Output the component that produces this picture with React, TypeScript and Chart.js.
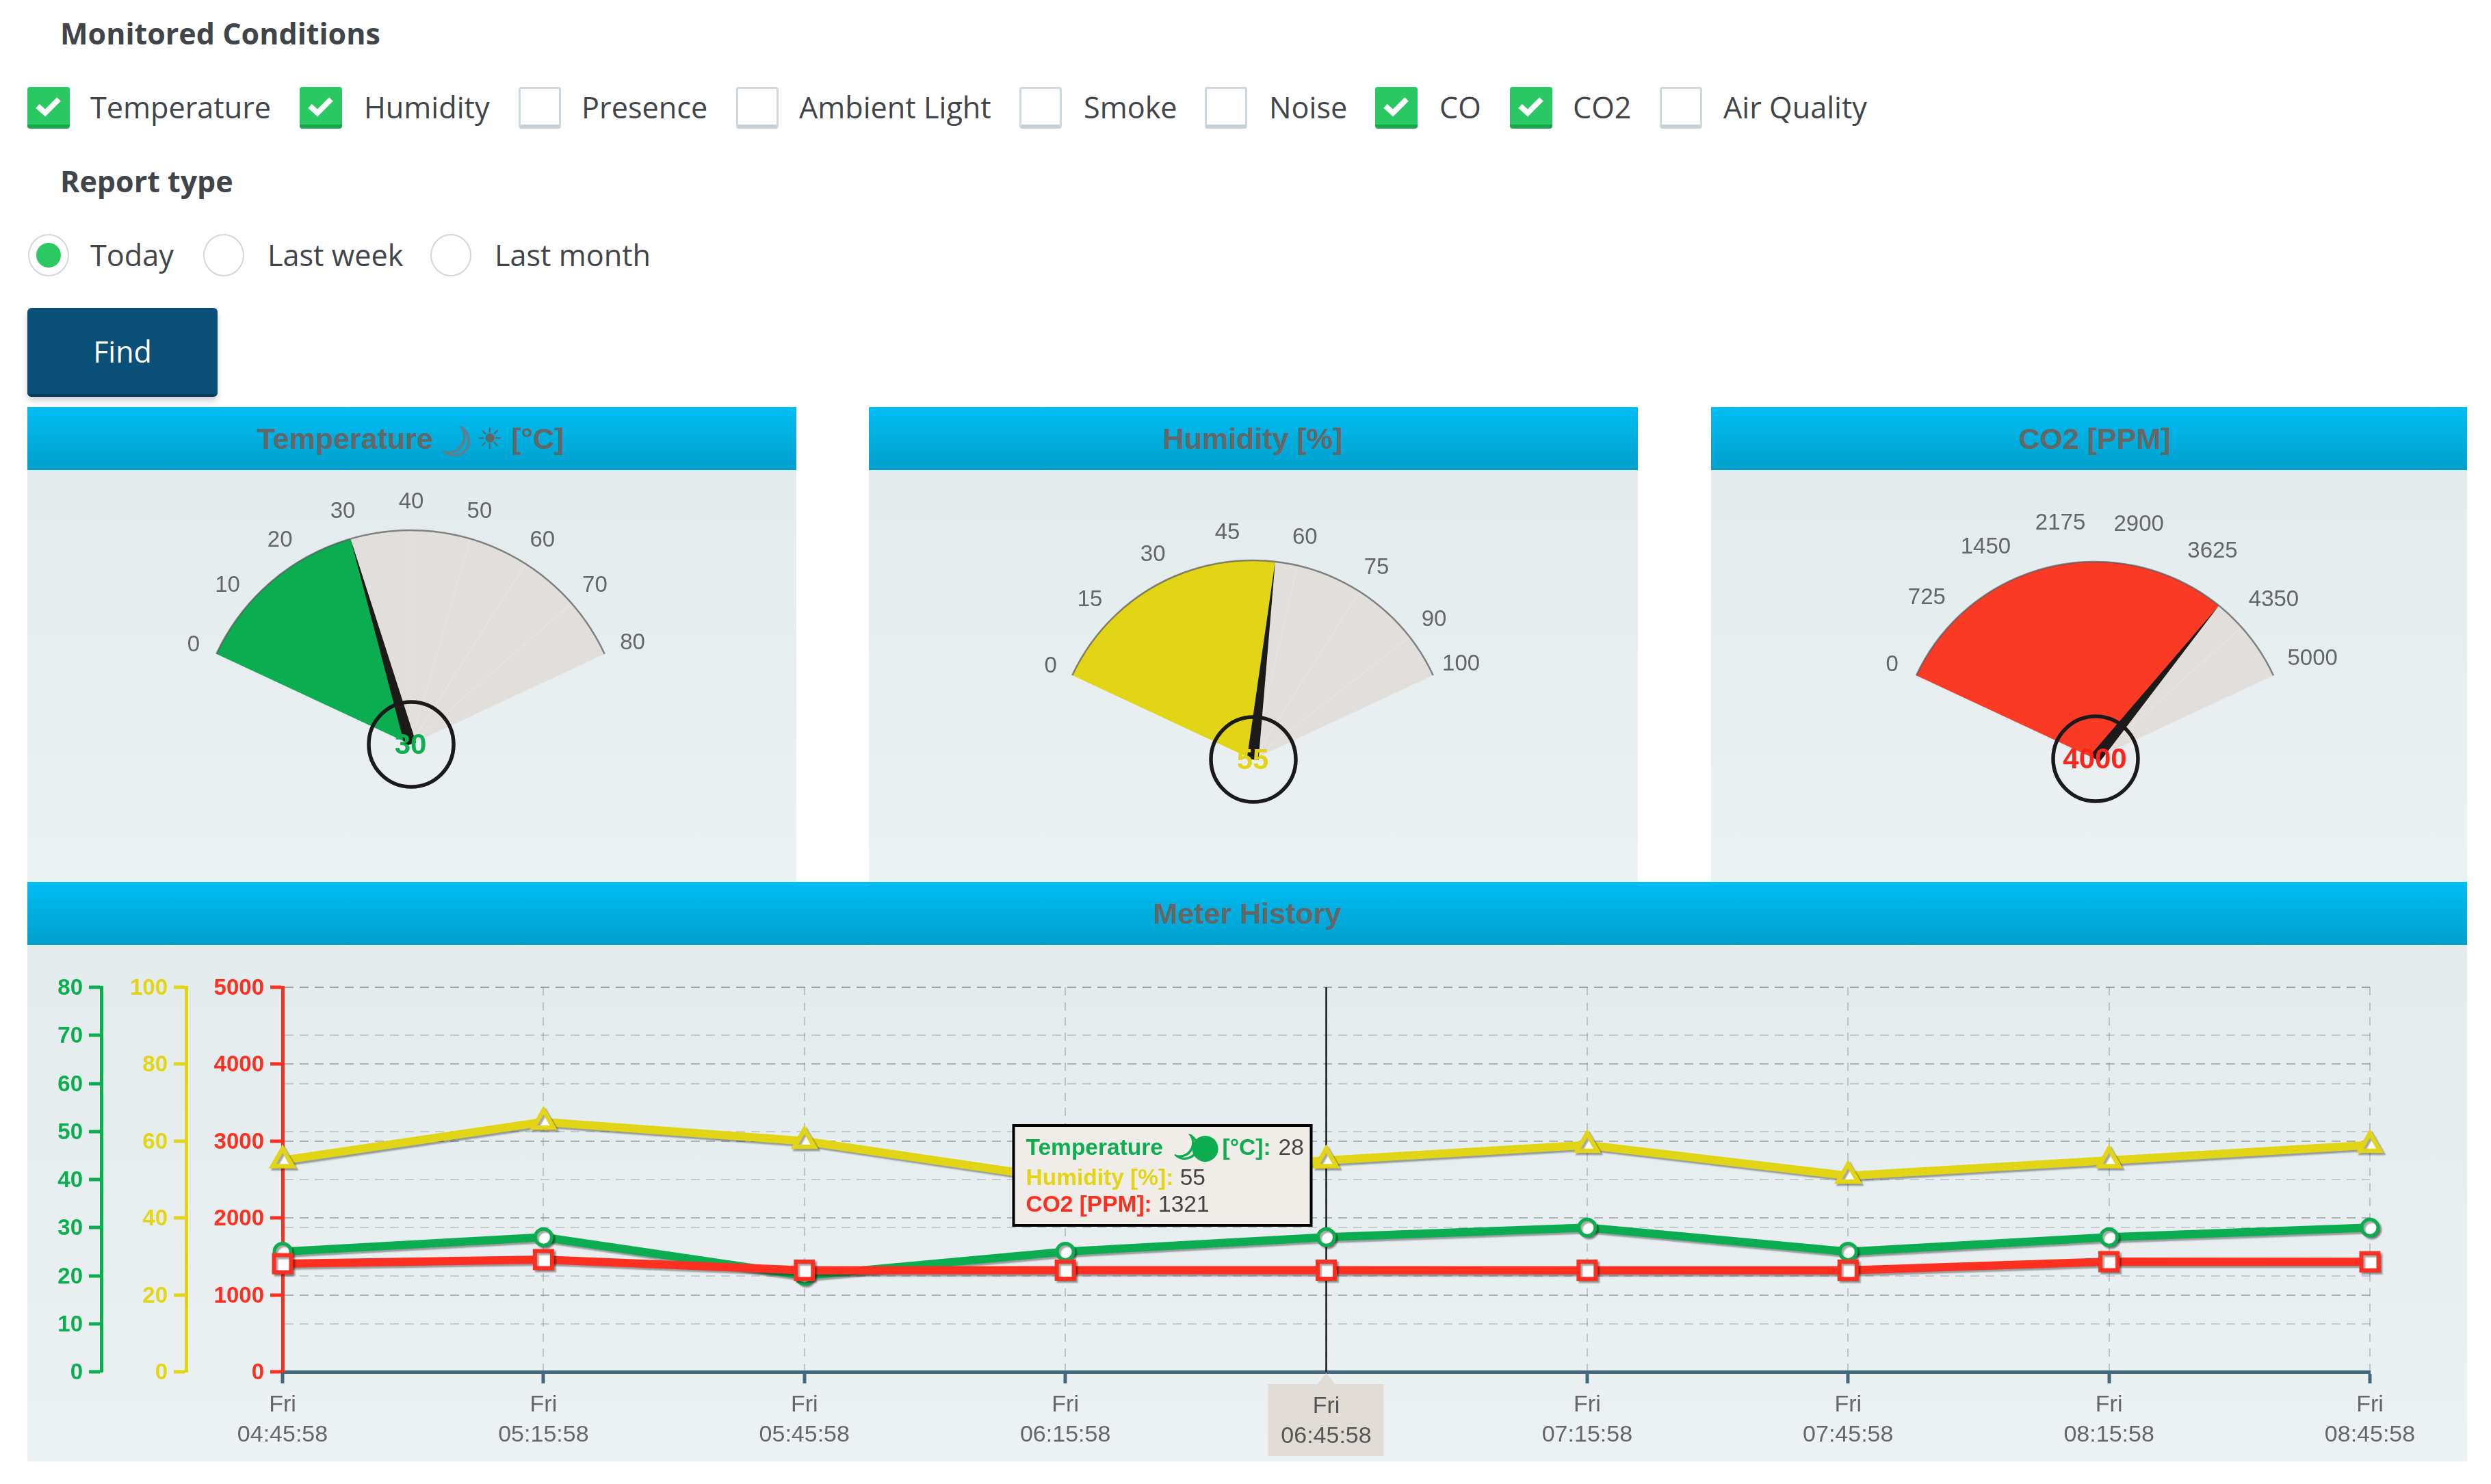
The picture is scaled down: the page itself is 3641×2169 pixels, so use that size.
import React, { useEffect, useRef } from "react";
import { Chart, registerables } from "chart.js";

Chart.register(...registerables);

// ---------- data ----------
const conditionNames = ["Temperature", "Humidity", "Presence", "Ambient Light", "Smoke", "Noise", "CO", "CO2", "Air Quality"];
const conditionChecked = [true, true, false, false, false, false, true, true, false];
const reportTypes = ["Today", "Last week", "Last month"];
const selectedReport = 0;

const gaugeValues = [30, 55, 4000];
const gaugeMaxes = [80, 100, 5000];
const temperatureTicks = [0, 10, 20, 30, 40, 50, 60, 70, 80];
const humidityTicks = [0, 15, 30, 45, 60, 75, 90, 100];
const co2Ticks = [0, 725, 1450, 2175, 2900, 3625, 4350, 5000];
const gaugeTicks = [temperatureTicks, humidityTicks, co2Ticks];

const timeLabels = [
  ["Fri", "04:45:58"], ["Fri", "05:15:58"], ["Fri", "05:45:58"], ["Fri", "06:15:58"], ["Fri", "06:45:58"],
  ["Fri", "07:15:58"], ["Fri", "07:45:58"], ["Fri", "08:15:58"], ["Fri", "08:45:58"],
];
const temperatureSeries = [25, 28, 20, 25, 28, 30, 25, 28, 30];
const humiditySeries = [55, 65, 60, 50, 55, 59, 51, 55, 59];
const co2Series = [1405, 1459, 1320, 1321, 1321, 1320, 1320, 1432, 1430];
const hoveredIndex = 4;

// ---------- style ----------
const GREEN = "#0bad50";
const YELLOW = "#e2d516";
const RED = "#fd2f20";
const REST = "#e2dedb";
const TEAL = "#41697b";
const SANS = '"Liberation Sans", "DejaVu Sans", sans-serif';
const OPEN = '"Open Sans", sans-serif';
const gaugeColors = [GREEN, YELLOW, "#fb3a26"];
const valueColors = ["#0cb050", "#e3d416", "#ff2419"];
const panelBody = "linear-gradient(180deg,#e3ebed,#ecf1f3)";
const headerBg = "linear-gradient(180deg,#00bdf3,#00a0cc)";

const gaugeLayout = [
  { px: 40, pw: 1124, cx: 600, cy: 1088, R: 313, lr: 357, ly: 3 },
  { px: 1270, pw: 1124, cx: 1831, cy: 1110, R: 291, lr: 335, ly: 2 },
  { px: 2501, pw: 1105, cx: 3062, cy: 1109, R: 288, lr: 350, ly: 2 },
];
const labelInset = [
  [6, 0, 0, 0, 0, 0, 0, 0, 0],
  [8, 0, 0, 0, 0, 0, 0, 0],
  [22, 8, 0, 0, 0, 0, 0, 0],
];
const BODY_TOP = 687;
const BODY_BOTTOM = 1289;
const HALF = 65;

function Gauge({ i }: { i: number }) {
  const ref = useRef<HTMLCanvasElement>(null);
  useEffect(() => {
    const L = gaugeLayout[i];
    const value = gaugeValues[i];
    const max = gaugeMaxes[i];
    const angleOf = (v: number) => ((-HALF + (2 * HALF * v) / max) * Math.PI) / 180;
    const plugin = {
      id: "gaugeDecor",
      afterDatasetsDraw(chart: any) {
        const arc = chart.getDatasetMeta(0).data[0];
        const { x, y, outerRadius: R } = arc;
        const ctx = chart.ctx;
        ctx.save();
        ctx.strokeStyle = "rgba(255,255,255,0.16)";
        ctx.lineWidth = 1.5;
        for (const t of gaugeTicks[i]) {
          if (t <= value || t === max) continue;
          const a = angleOf(t);
          ctx.beginPath();
          ctx.moveTo(x, y);
          ctx.lineTo(x + Math.sin(a) * R, y - Math.cos(a) * R);
          ctx.stroke();
        }
        ctx.strokeStyle = "rgba(85,85,85,0.7)";
        ctx.lineWidth = 2.5;
        ctx.beginPath();
        ctx.arc(x, y, R, angleOf(0) - Math.PI / 2, angleOf(max) - Math.PI / 2);
        ctx.stroke();
        ctx.fillStyle = "#666";
        ctx.font = `33px ${SANS}`;
        ctx.textAlign = "center";
        ctx.textBaseline = "middle";
        gaugeTicks[i].forEach((t, k) => {
          const a = angleOf(t);
          const r = L.lr - labelInset[i][k];
          ctx.fillText(String(t), x + 1 + Math.sin(a) * r, y + L.ly - Math.cos(a) * r);
        });
        const a = angleOf(value);
        const nx = Math.cos(a) * 8.5;
        const ny = Math.sin(a) * 8.5;
        ctx.fillStyle = "#1d1b19";
        ctx.beginPath();
        ctx.moveTo(x - nx, y - ny);
        ctx.lineTo(x + Math.sin(a) * R, y - Math.cos(a) * R);
        ctx.lineTo(x + nx, y + ny);
        ctx.closePath();
        ctx.fill();
        ctx.strokeStyle = "#1a1a1a";
        ctx.lineWidth = 5.5;
        ctx.beginPath();
        ctx.arc(x + 1, y, 62, 0, Math.PI * 2);
        ctx.stroke();
        ctx.fillStyle = valueColors[i];
        ctx.font = `bold 42px ${SANS}`;
        ctx.fillText(String(value), x, y + 2);
        ctx.restore();
      },
    };
    const chart = new Chart(ref.current!, {
      type: "doughnut",
      data: {
        labels: ["value", "rest"],
        datasets: [{
          data: [value, max - value],
          backgroundColor: [gaugeColors[i], REST],
          borderWidth: 0,
          hoverOffset: 0,
          offset: 0,
        }],
      },
      options: {
        responsive: false,
        animation: false,
        events: [],
        rotation: -HALF,
        circumference: 2 * HALF,
        cutout: 0,
        radius: L.R,
        layout: {
          padding: {
            left: L.cx - L.R - L.px,
            right: L.px + L.pw - L.cx - L.R,
            top: L.cy - L.R - BODY_TOP,
            bottom: BODY_BOTTOM - L.cy,
          },
        },
        plugins: { legend: { display: false }, tooltip: { enabled: false } },
      } as any,
      plugins: [plugin],
    });
    return () => chart.destroy();
  }, [i]);
  const L = gaugeLayout[i];
  return (
    <canvas
      ref={ref}
      width={L.pw}
      height={BODY_BOTTOM - BODY_TOP}
      style={{ position: "absolute", left: L.px, top: BODY_TOP, width: L.pw, height: BODY_BOTTOM - BODY_TOP, display: "block" }}
    />
  );
}

const CHART_LEFT = 40;
const CHART_TOP = 1381;
const CHART_W = 3566;
const CHART_H = 755;

function History() {
  const ref = useRef<HTMLCanvasElement>(null);
  useEffect(() => {
    const shadow = {
      id: "lineShadow",
      beforeDatasetDraw(chart: any) {
        const c = chart.ctx;
        c.save();
        c.shadowColor = "rgba(0,0,0,0.35)";
        c.shadowBlur = 2;
        c.shadowOffsetX = 3;
        c.shadowOffsetY = 3;
      },
      afterDatasetDraw(chart: any) {
        chart.ctx.restore();
      },
    };
    const hover = {
      id: "hoverDecor",
      beforeDatasetsDraw(chart: any) {
        const c = chart.ctx;
        const x = chart.scales.x.getPixelForValue(hoveredIndex);
        c.save();
        c.strokeStyle = "#1a1a1a";
        c.lineWidth = 2.5;
        c.beginPath();
        c.moveTo(x, chart.chartArea.top);
        c.lineTo(x, chart.chartArea.bottom);
        c.stroke();
        c.restore();
      },
      afterDraw(chart: any) {
        const c = chart.ctx;
        const x = chart.scales.x.getPixelForValue(hoveredIndex);
        const b = chart.chartArea.bottom;
        c.save();
        c.fillStyle = "#e2dcd7";
        c.fillRect(x - 85, b + 18, 169, 105);
        c.beginPath();
        c.moveTo(x, b + 2);
        c.lineTo(x - 13, b + 18);
        c.lineTo(x + 13, b + 18);
        c.closePath();
        c.fill();
        c.fillStyle = "#555";
        c.font = `34px ${SANS}`;
        c.textAlign = "center";
        c.textBaseline = "middle";
        c.fillText(timeLabels[hoveredIndex][0], x, b + 51);
        c.fillText(timeLabels[hoveredIndex][1], x, b + 95);
        // tooltip
        const left = x - 457;
        const top = b - 360;
        c.fillStyle = "#f0ece8";
        c.strokeStyle = "#000";
        c.lineWidth = 4;
        c.fillRect(left, top, 435, 146);
        c.strokeRect(left, top, 435, 146);
        c.textAlign = "left";
        const bold = `bold 33.5px ${SANS}`;
        const reg = `33.5px ${SANS}`;
        const y1 = top + 34;
        c.font = bold;
        c.fillStyle = GREEN;
        c.fillText("Temperature", left + 18, y1);
        c.fillText("[\u00B0C]:", left + 305, y1);
        c.font = reg;
        c.fillStyle = "#444";
        c.fillText(String(temperatureSeries[hoveredIndex]), left + 387, y1);
        // moon and sun glyphs of the tooltip's first row
        c.save();
        c.fillStyle = GREEN;
        c.strokeStyle = GREEN;
        c.lineWidth = 1.6;
        c.translate(left + 247, y1 + 1);
        c.rotate((35 * Math.PI) / 180);
        c.textAlign = "center";
        c.font = `52px "DejaVu Sans"`;
        c.fillText("\u263D", 0, 0);
        c.strokeText("\u263D", 0, 0);
        c.restore();
        c.save();
        c.fillStyle = GREEN;
        c.textAlign = "center";
        c.font = `50px "DejaVu Sans"`;
        c.fillText("\u25CF", left + 280, y1);
        c.restore();
        const rows = [
          { label: "Humidity [%]:", color: YELLOW, value: humiditySeries[hoveredIndex], dy: 78 },
          { label: "CO2 [PPM]:", color: RED, value: co2Series[hoveredIndex], dy: 117 },
        ];
        for (const r of rows) {
          c.font = bold;
          c.fillStyle = r.color;
          c.fillText(r.label, left + 18, top + r.dy);
          const w = c.measureText(r.label + " ").width;
          c.font = reg;
          c.fillStyle = "#444";
          c.fillText(String(r.value), left + 18 + w, top + r.dy);
        }
        c.restore();
      },
    };
    const gridColor = "rgba(110,125,135,0.3)";
    const yAxis = (color: string, max: number, step: number, labelEvery: number, weight: number, width: number) => ({
      type: "linear",
      position: "left",
      min: 0,
      max,
      weight,
      afterFit(s: any) { s.width = width; },
      ticks: {
        stepSize: step,
        color,
        padding: 9,
        labelOffset: 2,
        autoSkip: false,
        font: { family: SANS, size: 33, weight: "bold" },
        callback: (v: number) => (v % labelEvery === 0 ? String(v) : null),
      },
      grid: { color: gridColor, lineWidth: 2, tickColor: color, tickWidth: 5, tickLength: 18 },
      border: { color, width: 5, dash: [13, 9] },
    });
    const chart = new Chart(ref.current!, {
      type: "line",
      data: {
        labels: timeLabels as any,
        datasets: [
          {
            label: "Temperature", data: temperatureSeries, yAxisID: "yT", order: 2,
            borderColor: GREEN, borderWidth: 12, pointStyle: "circle", pointRadius: 12, pointBorderWidth: 5,
            pointBackgroundColor: "#fff", pointBorderColor: GREEN, tension: 0, clip: false,
          },
          {
            label: "Humidity", data: humiditySeries, yAxisID: "yH", order: 1,
            borderColor: YELLOW, borderWidth: 12, pointStyle: "triangle", pointRadius: 17, pointBorderWidth: 6.5,
            pointBackgroundColor: "#fff", pointBorderColor: YELLOW, tension: 0, clip: false,
          },
          {
            label: "CO2", data: co2Series, yAxisID: "yC", order: 0,
            borderColor: RED, borderWidth: 12, pointStyle: "rect", pointRadius: 17.7, pointBorderWidth: 6,
            pointBackgroundColor: "#fff", pointBorderColor: RED, tension: 0, clip: false,
          },
        ],
      },
      options: {
        responsive: false,
        animation: false,
        events: [],
        layout: { padding: { left: 0, right: 142, top: 62, bottom: 0 } },
        plugins: { legend: { display: false }, tooltip: { enabled: false } },
        scales: {
          x: {
            type: "category",
            afterFit(s: any) { s.height = 131; },
            ticks: {
              color: "#666",
              autoSkip: false,
              maxRotation: 0,
              padding: 10,
              font: { family: SANS, size: 34, lineHeight: 1.29 },
              callback: (_v: any, idx: number) => (idx === hoveredIndex ? "" : timeLabels[idx]),
            },
            grid: {
              color: "rgba(110,125,135,0.36)",
              lineWidth: 2,
              tickColor: (ctx: any) => (ctx.index === hoveredIndex ? "rgba(0,0,0,0)" : TEAL),
              tickWidth: 5,
              tickLength: 17,
            },
            border: { color: TEAL, width: 5, dash: [12, 10] },
          },
          yC: yAxis(RED, 5000, 1000, 1000, 0, 141),
          yH: yAxis(YELLOW, 100, 10, 20, 1, 124),
          yT: yAxis(GREEN, 80, 10, 10, 2, 108),
        },
      } as any,
      plugins: [shadow, hover],
    });
    return () => chart.destroy();
  }, []);
  return (
    <canvas
      ref={ref}
      width={CHART_W}
      height={CHART_H}
      style={{ position: "absolute", left: CHART_LEFT, top: CHART_TOP, width: CHART_W, height: CHART_H, display: "block" }}
    />
  );
}

// ---------- page bits ----------
const checkboxX = [40, 438, 758, 1076, 1490, 1761, 2010, 2207, 2426];
const radioX = [41, 297, 629];

function Text({ x, y, children, style }: any) {
  return (
    <div style={{ position: "absolute", left: x, top: y - 40, height: 80, lineHeight: "80px", whiteSpace: "nowrap", fontFamily: OPEN, fontSize: 43.2, color: "#3f4549", ...style }}>
      {children}
    </div>
  );
}

function Check({ x, on }: { x: number; on: boolean }) {
  return (
    <div style={{
      position: "absolute", left: x, top: 127, width: 62, height: 61, boxSizing: "border-box", borderRadius: 4,
      background: on ? "#2ac862" : "#fff",
      border: on ? "none" : "3px solid #cfd8dc",
      borderBottom: on ? "6px solid #1ba64e" : "6px solid #c6d0d5",
    }}>
      {on ? (
        <svg width="62" height="55" style={{ position: "absolute", left: 0, top: 0 }}>
          <polyline points="15,28 26,38 46,18" fill="none" stroke="#fff" strokeWidth="8" />
        </svg>
      ) : null}
    </div>
  );
}

function Radio({ x, on }: { x: number; on: boolean }) {
  return (
    <div style={{ position: "absolute", left: x, top: 342, width: 60, height: 62, boxSizing: "border-box", borderRadius: "50%", background: "#fff", border: "2.5px solid #cfd8dc" }}>
      {on ? <div style={{ position: "absolute", left: 10, top: 11, width: 36, height: 36, borderRadius: "50%", background: "#2cc862" }} /> : null}
    </div>
  );
}

function Header({ x, w, y, shift = 0, children }: any) {
  return (
    <div style={{
      position: "absolute", left: x, top: y, width: w, height: 92, background: headerBg, color: "#666",
      fontFamily: SANS, fontWeight: "bold", fontSize: 43, lineHeight: "92px", textAlign: "center", whiteSpace: "nowrap",
      textIndent: shift * 2, overflow: "hidden",
    }}>
      {children}
    </div>
  );
}

const checkLabelX = [132, 532, 850, 1168, 1584, 1855, 2104, 2299, 2519];
const radioLabelX = [132, 391, 723];
const gaugeTitles = ["Humidity [%]", "CO2 [PPM]"];

export default function App() {
  return (
    <div style={{ position: "absolute", left: 0, top: 0, width: 3641, height: 2169, background: "#fff", overflow: "hidden" }}>
      <Text x={88} y={49} style={{ fontWeight: 700, fontSize: 43 }}>Monitored Conditions</Text>
      {conditionNames.map((n, i) => (
        <React.Fragment key={n}>
          <Check x={checkboxX[i]} on={conditionChecked[i]} />
          <Text x={checkLabelX[i]} y={157}>{n}</Text>
        </React.Fragment>
      ))}
      <Text x={88} y={265} style={{ fontWeight: 700, fontSize: 43 }}>Report type</Text>
      {reportTypes.map((n, i) => (
        <React.Fragment key={n}>
          <Radio x={radioX[i]} on={i === selectedReport} />
          <Text x={radioLabelX[i]} y={373}>{n}</Text>
        </React.Fragment>
      ))}
      <div style={{
        position: "absolute", left: 40, top: 450, width: 278, height: 130, boxSizing: "border-box", background: "#0a5078",
        borderBottom: "4px solid #063b5a", borderRadius: 6, color: "#fff", fontFamily: OPEN, fontSize: 43, textAlign: "center",
        lineHeight: "128px", boxShadow: "0 6px 8px rgba(120,130,140,0.35)",
      }}>Find</div>

      {gaugeLayout.map((L, i) => (
        <div key={i} style={{ position: "absolute", left: L.px, top: BODY_TOP, width: L.pw, height: BODY_BOTTOM - BODY_TOP, background: panelBody }} />
      ))}
      <Header x={gaugeLayout[0].px} w={gaugeLayout[0].pw} y={595} shift={-2}>
        Temperature{" "}
        <span style={{ display: "inline-block", width: 40, height: 10, lineHeight: "10px", textIndent: 0, verticalAlign: "middle", position: "relative" }}>
          <span style={{ position: "absolute", left: -8, top: -4, width: 40, textAlign: "center", fontSize: 62, fontWeight: "normal", color: "#5f7f8c", WebkitTextStroke: "1.5px #5f7f8c", transform: "rotate(35deg)", fontFamily: '"DejaVu Sans"' }}>{"\u263D"}</span>
        </span>{" "}
        {"\u2600"} [°C]
      </Header>
      <Header x={gaugeLayout[1].px} w={gaugeLayout[1].pw} y={595} shift={-1}>{gaugeTitles[0]}</Header>
      <Header x={gaugeLayout[2].px} w={gaugeLayout[2].pw} y={595} shift={8}>{gaugeTitles[1]}</Header>
      {gaugeLayout.map((_, i) => <Gauge key={i} i={i} />)}

      <div style={{ position: "absolute", left: CHART_LEFT, top: CHART_TOP, width: CHART_W, height: CHART_H, background: panelBody }} />
      <Header x={CHART_LEFT} w={CHART_W} y={1289}>Meter History</Header>
      <History />
    </div>
  );
}
